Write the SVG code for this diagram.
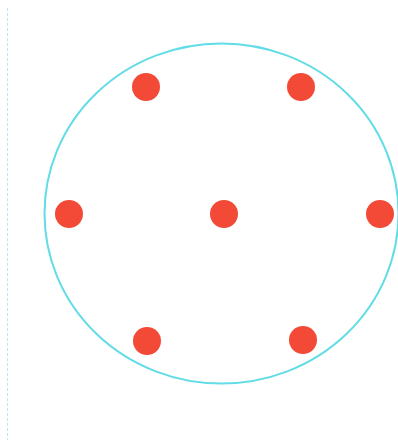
<svg xmlns="http://www.w3.org/2000/svg" width="398" height="443" viewBox="0 0 398 443">
<style>
.dot{fill:#F24A36}
.ring{fill:none;stroke:#62DCE6;stroke-width:2}
</style>
<rect width="398" height="443" fill="#ffffff"/>
<line x1="7.5" y1="8" x2="7.5" y2="440" stroke="#AEECF2" stroke-width="1" stroke-dasharray="3 2"/>
<ellipse class="ring" cx="221.5" cy="213.5" rx="177" ry="170"/>
<g id="n1"><circle class="dot" cx="146" cy="87" r="14"/></g>
<g id="n2"><circle class="dot" cx="301" cy="87" r="14"/></g>
<g id="n3"><circle class="dot" cx="69" cy="214" r="14"/></g>
<g id="n4"><circle class="dot" cx="224" cy="214" r="14"/></g>
<g id="n5"><circle class="dot" cx="380" cy="214" r="14"/></g>
<g id="n6"><circle class="dot" cx="147" cy="341" r="14"/></g>
<g id="n7"><circle class="dot" cx="303" cy="340" r="14"/></g>
<g id="connectors"></g>
</svg>
